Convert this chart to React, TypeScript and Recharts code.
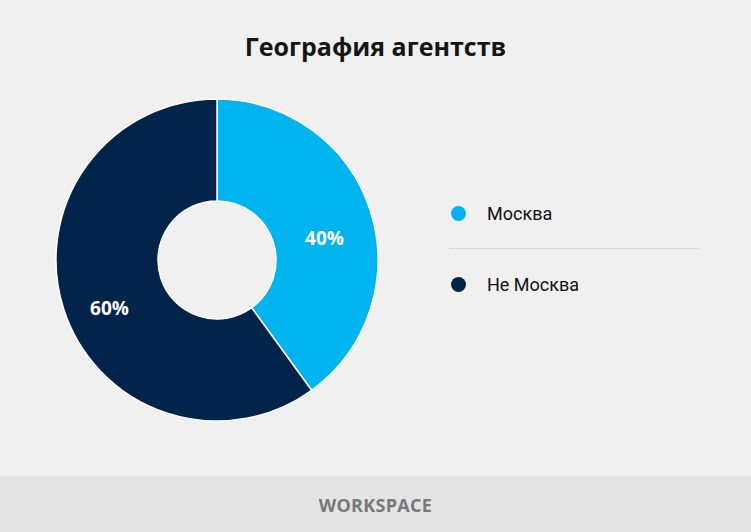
import { Legend, Pie, PieChart, Cell } from "recharts";

const regions = ["Москва", "Не Москва"];
const shares = [40, 60];
const colors = ["#00b5ef", "#03244a"];

const data = regions.map((name, i) => ({ name, value: shares[i] }));

const RAD = Math.PI / 180;

// labels sit a bit below the slice middle in the original
function PctLabel(props: any) {
  const { cx, cy, midAngle, percent } = props;
  const r = 113;
  const x = cx + r * Math.cos(-midAngle * RAD);
  const y = cy + r * Math.sin(-midAngle * RAD) + 13;
  return (
    <text
      x={x}
      y={y}
      fill="#fff"
      textAnchor="middle"
      dominantBaseline="central"
      style={{ fontFamily: "Open Sans", fontWeight: 700, fontSize: 19 }}
    >
      {`${Math.round(percent * 100)}%`}
    </text>
  );
}

function LegendBox({ payload }: any) {
  return (
    <div style={{ width: 250, fontFamily: "Roboto", fontSize: 18, color: "#111" }}>
      {(payload ?? []).map((p: any, i: number) => (
        <div key={p.value}>
          {i > 0 && <div style={{ height: 1, background: "#d9d9d9" }} />}
          <div style={{ display: "flex", alignItems: "center", height: 70 }}>
            <span
              style={{
                width: 15,
                height: 15,
                borderRadius: "50%",
                background: p.color,
                marginLeft: 2,
                marginRight: 21,
              }}
            />
            <span>{p.value}</span>
          </div>
        </div>
      ))}
    </div>
  );
}

export default function App() {
  return (
    <div
      style={{
        position: "absolute",
        left: 0,
        top: 0,
        width: 751,
        height: 532,
        background: "#f0f0f0",
        overflow: "hidden",
      }}
    >
      <div
        style={{
          position: "absolute",
          top: 29,
          width: 751,
          textAlign: "center",
          fontFamily: "Open Sans",
          fontWeight: 700,
          fontSize: 25,
          color: "#151515",
        }}
      >
        География агентств
      </div>
      <div style={{ position: "absolute", left: 0, top: 0 }}>
        <PieChart width={751} height={476} margin={{ top: 0, right: 0, bottom: 0, left: 0 }}>
          <Pie
            data={data}
            dataKey="value"
            nameKey="name"
            cx={217}
            cy={260}
            innerRadius={59}
            outerRadius={161}
            startAngle={90}
            endAngle={-270}
            stroke="#ffffff"
            strokeWidth={1.5}
            label={PctLabel}
            labelLine={false}
            isAnimationActive={false}
          >
            {data.map((d, i) => (
              <Cell key={d.name} fill={colors[i]} />
            ))}
          </Pie>
          <Legend
            content={<LegendBox />}
            wrapperStyle={{ left: 449, top: 178, width: 250 }}
          />
        </PieChart>
      </div>
      <div
        style={{
          position: "absolute",
          left: 0,
          top: 476,
          width: 751,
          height: 56,
          background: "#e4e4e4",
        }}
      >
        <div
          style={{
            textAlign: "center",
            marginTop: 17,
            fontFamily: "Open Sans",
            fontWeight: 700,
            fontSize: 18,
            letterSpacing: 0.3,
            color: "#787878",
          }}
        >
          WORKSPACE
        </div>
      </div>
    </div>
  );
}
